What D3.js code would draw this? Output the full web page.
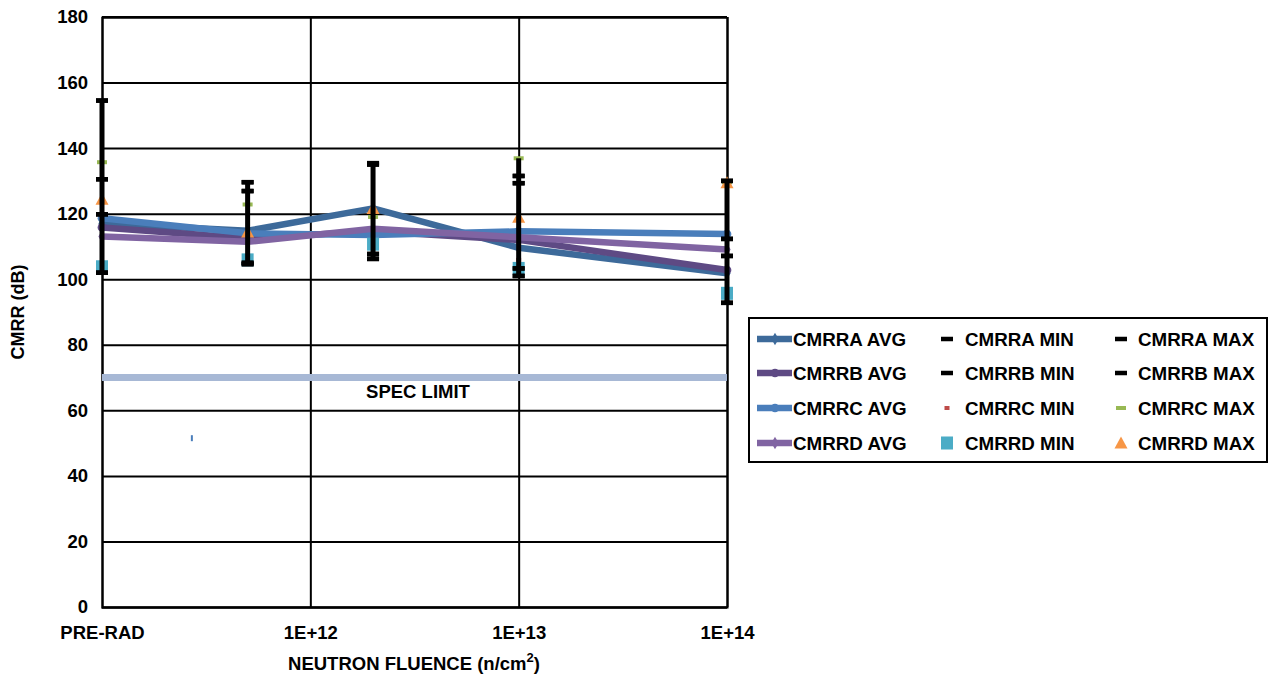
<!DOCTYPE html>
<html>
<head>
<meta charset="utf-8">
<script src="https://cdn.jsdelivr.net/npm/d3@7"></script>
<style>
  html, body { margin: 0; padding: 0; background: #fff; }
  svg { display: block; font-family: "Liberation Sans", Arial, sans-serif; font-weight: bold; }
</style>
</head>
<body>
<svg id="chart" width="1272" height="674"></svg>
<script>
// Neutron fluence at each measurement point (PRE-RAD is plotted at 1E+11)
const fluence = [1e11, 5e11, 2e12, 1e13, 1e14];
const xTickValues = [1e11, 1e12, 1e13, 1e14];
const xTickLabels = ["PRE-RAD", "1E+12", "1E+13", "1E+14"];
const yTickValues = [0, 20, 40, 60, 80, 100, 120, 140, 160, 180];

// CMRR averages (dB)
const cmrraAvg = [117.0, 114.8, 121.6, 109.6, 101.8];
const cmrrbAvg = [115.8, 112.5, 114.6, 112.0, 102.8];
const cmrrcAvg = [118.6, 114.0, 113.5, 114.6, 113.8];
const cmrrdAvg = [113.0, 111.4, 115.4, 112.8, 109.1];

// CMRR minimum / maximum readings (dB)
const cmrraMin = [102.0, 104.6, 107.7, 103.3, 107.1];
const cmrraMax = [154.5, 129.6, 135.4, 131.5, 130.0];
const cmrrbMin = [119.8, 105.0, 106.2, 101.0, 92.8];
const cmrrbMax = [130.5, 126.9, 135.0, 129.3, 112.3];
const cmrrcMin = [104.0, 106.0, 110.7, 105.9, 93.3];
const cmrrcMax = [135.7, 122.8, 119.0, 136.9, 129.6];
const cmrrdMin = [103.8, 105.9, 110.7, 103.3, 95.7];
const cmrrdMax = [124.4, 114.4, 121.6, 118.9, 129.4];

// Specification limit and its stray marker
const specLimit = 70;
const specMarker = { fluence: 2.7e11, value: 51.5 };

const FONT = "'Liberation Sans', Arial, sans-serif";
const svg = d3.select("#chart");
const m = { left: 102, right: 727, top: 17, bottom: 607 };

const x = d3.scaleLog().domain([1e11, 1e14]).range([m.left, m.right]);
const y = d3.scaleLinear().domain([0, 180]).range([m.bottom, m.top]);

// Y axis with horizontal gridlines
const yAxis = svg.append("g")
  .attr("transform", `translate(${m.left},0)`)
  .call(d3.axisLeft(y).tickValues(yTickValues).tickSize(-(m.right - m.left)).tickPadding(14));
yAxis.select(".domain").attr("stroke", "#000").attr("stroke-width", 2);
yAxis.selectAll(".tick line").attr("stroke", "#000").attr("stroke-width", 2);
yAxis.selectAll(".tick text").attr("font-size", 18.5).attr("font-weight", "bold").attr("fill", "#000")
  .attr("font-family", FONT);

// X axis with vertical gridlines
const xAxis = svg.append("g")
  .attr("transform", `translate(0,${m.bottom})`)
  .call(d3.axisBottom(x).tickValues(xTickValues)
    .tickFormat((d, i) => xTickLabels[i])
    .tickSize(-(m.bottom - m.top)).tickPadding(19));
xAxis.select(".domain").attr("stroke", "#000").attr("stroke-width", 2);
xAxis.selectAll(".tick line").attr("stroke", "#000").attr("stroke-width", 2)
  .attr("display", (d, i) => i === 0 ? "none" : null);
xAxis.selectAll(".tick text").attr("font-size", 18.5).attr("font-weight", "bold").attr("fill", "#000")
  .attr("font-family", FONT);

// Top border of the plot area
svg.append("line").attr("x1", m.left).attr("x2", m.right)
  .attr("y1", y(180)).attr("y2", y(180)).attr("stroke", "#000").attr("stroke-width", 2);

// Axis titles
svg.append("text")
  .attr("transform", `translate(24,${(m.top + m.bottom) / 2}) rotate(-90)`)
  .attr("text-anchor", "middle").attr("font-size", 18).text("CMRR (dB)");
const xt = svg.append("text").attr("x", 414).attr("y", 670)
  .attr("text-anchor", "middle").attr("font-size", 18.5);
xt.append("tspan").text("NEUTRON FLUENCE (n/cm");
xt.append("tspan").attr("dy", -8).attr("font-size", 13).text("2");
xt.append("tspan").attr("dy", 8).text(")");

// Spec limit line and label
svg.append("line").attr("x1", m.left).attr("x2", m.right)
  .attr("y1", y(specLimit)).attr("y2", y(specLimit))
  .attr("stroke", "#a7b8d5").attr("stroke-width", 7);
svg.append("text").attr("x", 418).attr("y", 398).attr("text-anchor", "middle")
  .attr("font-size", 18.5).text("SPEC LIMIT");
svg.append("rect")
  .attr("x", x(specMarker.fluence) - 1).attr("y", y(specMarker.value) - 3)
  .attr("width", 2).attr("height", 6).attr("fill", "#4a7ebb");

// Marker shapes
const diamond = d3.symbol().type(d3.symbolDiamond).size(45);
const circle = d3.symbol().type(d3.symbolCircle).size(60);

const avgSeries = [
  { name: "CMRRA AVG", values: cmrraAvg, color: "#3d6a9a", marker: diamond },
  { name: "CMRRB AVG", values: cmrrbAvg, color: "#5e4a84", marker: circle },
  { name: "CMRRC AVG", values: cmrrcAvg, color: "#4a7ebb", marker: circle },
  { name: "CMRRD AVG", values: cmrrdAvg, color: "#8064a2", marker: diamond }
];

const line = d3.line().x((d, i) => x(fluence[i])).y(d => y(d));
avgSeries.forEach(s => {
  svg.append("path").datum(s.values).attr("d", line)
    .attr("fill", "none").attr("stroke", s.color).attr("stroke-width", 6.5)
    .attr("stroke-linejoin", "round");
  svg.append("g").selectAll("path").data(s.values).join("path")
    .attr("transform", (d, i) => `translate(${x(fluence[i])},${y(d)})`)
    .attr("d", s.marker()).attr("fill", s.color);
});

// Min / max marker series
const dash = (w, h) => (sel, color) => sel.append("rect")
  .attr("x", -w / 2).attr("y", -h / 2).attr("width", w).attr("height", h).attr("fill", color);
const square = (sel, color) => sel.append("rect")
  .attr("x", -6).attr("y", -6.5).attr("width", 12).attr("height", 13).attr("fill", color);
const triangle = (sel, color) => sel.append("path")
  .attr("d", "M0,-6.5L6.5,5.5L-6.5,5.5Z").attr("fill", color);

const extremeSeries = [
  { name: "CMRRA MIN", values: cmrraMin, color: "#000", draw: dash(12, 4.5) },
  { name: "CMRRB MIN", values: cmrrbMin, color: "#000", draw: dash(12, 4.5) },
  { name: "CMRRC MIN", values: cmrrcMin, color: "#be4b48", draw: dash(5, 4) },
  { name: "CMRRD MIN", values: cmrrdMin, color: "#4bacc6", draw: square },
  { name: "CMRRA MAX", values: cmrraMax, color: "#000", draw: dash(12, 4.5) },
  { name: "CMRRB MAX", values: cmrrbMax, color: "#000", draw: dash(12, 4.5) },
  { name: "CMRRC MAX", values: cmrrcMax, color: "#98b954", draw: dash(10, 4) },
  { name: "CMRRD MAX", values: cmrrdMax, color: "#f79646", draw: triangle }
];

const coloredFirst = [2, 3, 6, 7, 0, 1, 4, 5];
coloredFirst.forEach(k => {
  const s = extremeSeries[k];
  s.values.forEach((v, i) => {
    const g = svg.append("g").attr("transform", `translate(${x(fluence[i])},${y(v)})`);
    s.draw(g, s.color);
  });
});

// High-low lines spanning every series at each fluence
const allSeries = avgSeries.map(s => s.values).concat(extremeSeries.map(s => s.values));
fluence.forEach((f, i) => {
  const vals = allSeries.map(v => v[i]);
  svg.append("line")
    .attr("x1", x(f)).attr("x2", x(f))
    .attr("y1", y(d3.min(vals))).attr("y2", y(d3.max(vals)))
    .attr("stroke", "#000").attr("stroke-width", 5);
});
// Black dashes stay visible on top of the high-low lines
[0, 1, 4, 5].forEach(k => {
  const s = extremeSeries[k];
  s.values.forEach((v, i) => {
    const g = svg.append("g").attr("transform", `translate(${x(fluence[i])},${y(v)})`);
    s.draw(g, s.color);
  });
});

// Legend
const legend = svg.append("g");
legend.append("rect").attr("x", 749).attr("y", 318).attr("width", 518).attr("height", 144)
  .attr("fill", "#fff").attr("stroke", "#000").attr("stroke-width", 2);
const rowY = [339, 373, 408, 443];
avgSeries.forEach((s, r) => {
  const g = legend.append("g").attr("transform", `translate(0,${rowY[r]})`);
  g.append("line").attr("x1", 757).attr("x2", 792).attr("stroke", s.color).attr("stroke-width", 6.5);
  g.append("path").attr("transform", "translate(775,0)").attr("d", s.marker()).attr("fill", s.color);
  g.append("text").attr("x", 793).attr("dy", "0.36em").attr("font-size", 18.8).text(s.name);
});
extremeSeries.forEach((s, k) => {
  const col = k < 4 ? 0 : 1;
  const r = k % 4;
  const mx = col === 0 ? 947 : 1121;
  const tx = col === 0 ? 965 : 1138;
  const g = legend.append("g").attr("transform", `translate(${mx},${rowY[r]})`);
  s.draw(g, s.color);
  legend.append("text").attr("x", tx).attr("y", rowY[r]).attr("dy", "0.36em")
    .attr("font-size", 18.8).text(s.name);
});
</script>
</body>
</html>
